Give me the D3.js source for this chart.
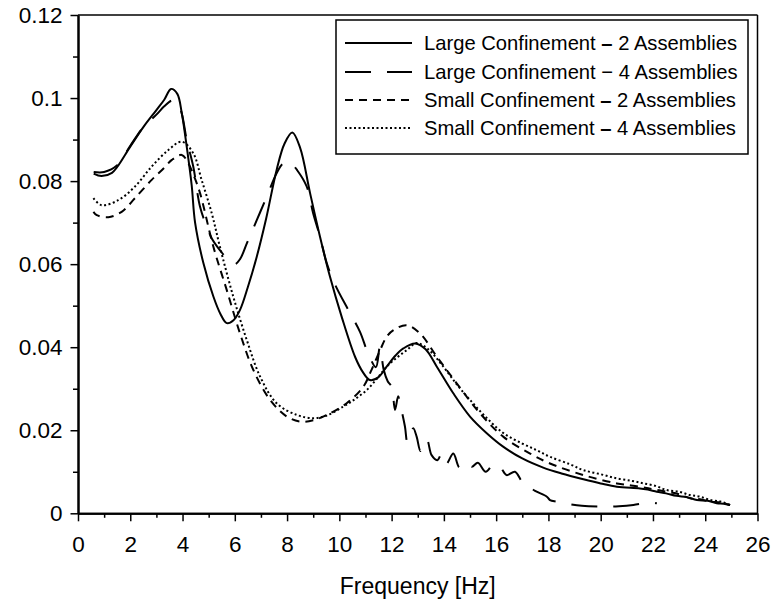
<!DOCTYPE html>
<html>
<head>
<meta charset="utf-8">
<script src="https://cdn.jsdelivr.net/npm/d3@7"></script>
<style>
  body { margin: 0; background: #fff; }
  svg { display: block; font-family: Arial, "Liberation Sans", sans-serif; }
</style>
</head>
<body>
<svg id="chart" width="772" height="603"></svg>
<script>
// ---- data ----
const seriesNames = [
  "Large Confinement",
  "Large Confinement",
  "Small Confinement",
  "Small Confinement"
];
const seriesAssemblies = ["2 Assemblies", "4 Assemblies", "2 Assemblies", "4 Assemblies"];

const large2Freq = [0.6, 0.9, 1.3, 1.5, 2.0, 2.5, 3.0, 3.3, 3.56, 3.8, 3.97, 4.16, 4.35, 4.48, 4.8, 5.18, 5.45, 5.69, 5.95, 6.2, 6.5, 6.84, 7.2, 7.6, 7.9, 8.2, 8.5, 8.88, 9.26, 9.64, 10.09, 10.6, 10.9, 11.17, 11.5, 11.81, 12.15, 12.45, 12.9, 13.3, 13.73, 14.36, 15.0, 15.64, 16.28, 17.0, 17.8, 18.5, 19.34, 20.0, 20.62, 21.5, 21.8, 22.15, 22.5, 22.9, 23.3, 23.68, 24.1, 24.44, 24.7, 24.95];
const large2Val  = [0.0818, 0.0812, 0.0820, 0.0834, 0.0883, 0.0930, 0.0971, 0.0996, 0.1022, 0.1010, 0.0964, 0.0883, 0.0790, 0.0700, 0.0602, 0.0522, 0.0480, 0.0458, 0.0465, 0.0490, 0.0545, 0.0618, 0.0710, 0.0827, 0.0890, 0.0917, 0.0880, 0.0771, 0.0666, 0.0570, 0.0473, 0.0377, 0.0340, 0.0321, 0.0328, 0.0353, 0.0380, 0.0397, 0.0409, 0.0395, 0.0353, 0.0289, 0.0233, 0.0193, 0.0160, 0.0132, 0.0110, 0.0096, 0.0082, 0.0072, 0.0064, 0.0060, 0.0057, 0.0052, 0.0048, 0.0042, 0.0039, 0.0032, 0.0030, 0.0024, 0.0023, 0.0020];

const large4Freq = [0.6, 1.0, 1.5, 2.0, 2.5, 3.0, 3.3, 3.59, 3.8, 3.97, 4.16, 4.41, 4.67, 4.93, 5.12, 5.45, 5.75, 6.0, 6.2, 6.46, 6.84, 7.22, 7.6, 7.86, 8.1, 8.4, 8.75, 9.0, 9.26, 9.52, 9.84, 10.34, 10.79, 11.1, 11.4, 11.55, 11.7, 11.85, 12.0, 12.13, 12.25, 12.32, 12.51, 12.6, 12.7, 12.83, 12.96, 13.1, 13.22, 13.35, 13.53, 13.75, 13.92, 14.1, 14.36, 14.6, 14.88, 15.07, 15.3, 15.6, 15.9, 16.15, 16.4, 16.72, 17.0, 17.2, 17.49, 17.94, 18.06, 18.32, 18.8, 19.28, 20.23, 20.7, 21.25, 21.89, 22.15];
const large4Val  = [0.0822, 0.0822, 0.0838, 0.0885, 0.0930, 0.0960, 0.0980, 0.0994, 0.0990, 0.0963, 0.0899, 0.0835, 0.0738, 0.0690, 0.0662, 0.0632, 0.0610, 0.0600, 0.0612, 0.0650, 0.0706, 0.0762, 0.0819, 0.0843, 0.0846, 0.0825, 0.0787, 0.0722, 0.0666, 0.0602, 0.0550, 0.0490, 0.0437, 0.0385, 0.0352, 0.0400, 0.0345, 0.0318, 0.0305, 0.0249, 0.0282, 0.0265, 0.0209, 0.0172, 0.0184, 0.0205, 0.0184, 0.0150, 0.0172, 0.0177, 0.0140, 0.0128, 0.0144, 0.0120, 0.0144, 0.0110, 0.0122, 0.0112, 0.0122, 0.0100, 0.0118, 0.0112, 0.0092, 0.0100, 0.0075, 0.0066, 0.0054, 0.0040, 0.0032, 0.0028, 0.0022, 0.0018, 0.0016, 0.0017, 0.0020, 0.0026, 0.0024];

const small2Freq = [0.59, 0.72, 1.16, 1.67, 2.18, 2.82, 3.3, 3.59, 3.97, 4.22, 4.45, 4.67, 5.18, 5.69, 6.2, 6.71, 7.35, 7.99, 8.5, 9.0, 9.52, 10.28, 10.92, 11.2, 11.56, 11.81, 12.07, 12.58, 13.09, 13.73, 14.49, 15.38, 16.28, 17.3, 18.06, 19.34, 20.62, 21.5, 22.0, 22.53, 23.0, 23.42, 23.8, 24.19, 24.6, 24.95];
const small2Val  = [0.0726, 0.0718, 0.0713, 0.0726, 0.0759, 0.0803, 0.0832, 0.0851, 0.0863, 0.0843, 0.0810, 0.0771, 0.0642, 0.0538, 0.0433, 0.0345, 0.0273, 0.0233, 0.0221, 0.0224, 0.0237, 0.0265, 0.0305, 0.0341, 0.0393, 0.0425, 0.0441, 0.0453, 0.0433, 0.0377, 0.0313, 0.0241, 0.0184, 0.0144, 0.0120, 0.0092, 0.0072, 0.0064, 0.0058, 0.0052, 0.0046, 0.0036, 0.0034, 0.0028, 0.0026, 0.0020];

const small4Freq = [0.59, 0.9, 1.54, 2.18, 2.82, 3.46, 3.97, 4.41, 4.73, 5.12, 5.43, 5.94, 6.46, 6.97, 7.6, 8.37, 9.0, 9.5, 10.15, 10.6, 11.05, 11.45, 11.81, 12.2, 12.58, 12.96, 13.4, 13.98, 14.5, 15.0, 15.6, 16.28, 17.0, 17.55, 18.06, 18.83, 19.34, 20.0, 20.62, 21.2, 21.64, 22.1, 22.53, 23.0, 23.42, 23.8, 24.19, 24.6, 24.95];
const small4Val  = [0.0759, 0.0742, 0.0754, 0.0787, 0.0835, 0.0875, 0.0895, 0.0867, 0.0803, 0.0722, 0.0642, 0.0522, 0.0417, 0.0329, 0.0265, 0.0237, 0.0229, 0.0235, 0.0257, 0.0275, 0.0297, 0.0325, 0.0353, 0.0375, 0.0393, 0.0410, 0.0395, 0.0353, 0.0310, 0.0273, 0.0232, 0.0193, 0.0168, 0.0152, 0.0136, 0.0118, 0.0104, 0.0094, 0.0084, 0.0078, 0.0072, 0.0066, 0.0056, 0.0052, 0.0044, 0.0040, 0.0032, 0.0028, 0.0020];

const xTickValues = [0, 2, 4, 6, 8, 10, 12, 14, 16, 18, 20, 22, 24, 26];
const xTickLabels = ["0", "2", "4", "6", "8", "10", "12", "14", "16", "18", "20", "22", "24", "26"];
const yTickValues = [0, 0.02, 0.04, 0.06, 0.08, 0.10, 0.12];
const yTickLabels = ["0", "0.02", "0.04", "0.06", "0.08", "0.1", "0.12"];
const xTitle = "Frequency [Hz]";

// ---- layout ----
const svg = d3.select("#chart");
const mLeft = 78, mRight = 757.5, mTop = 15, mBottom = 513.3;
const x = d3.scaleLinear().domain([0, 26]).range([mLeft, mRight]);
const y = d3.scaleLinear().domain([0, 0.12]).range([mBottom, mTop]);

const styles = [
  { dash: null, width: 2 },
  { dash: "26,16", width: 2 },
  { dash: "8,6", width: 2 },
  { dash: "2,2.5", width: 2 }
];
const series = [
  [large2Freq, large2Val],
  [large4Freq, large4Val],
  [small2Freq, small2Val],
  [small4Freq, small4Val]
];

const line = d3.line()
  .x(d => x(d[0]))
  .y(d => y(d[1]))
  .curve(d3.curveCatmullRom.alpha(0.5));

const plot = svg.append("g");
series.forEach((s, i) => {
  const pts = s[0].map((f, k) => [f, s[1][k]]);
  plot.append("path")
    .datum(pts)
    .attr("d", line)
    .attr("fill", "none")
    .attr("stroke", "#000")
    .attr("stroke-width", styles[i].width)
    .attr("stroke-dasharray", styles[i].dash)
    .attr("stroke-linejoin", "round");
});

// frame (top & right)
svg.append("line").attr("x1", mLeft).attr("x2", mRight).attr("y1", mTop).attr("y2", mTop)
  .attr("stroke", "#000").attr("stroke-width", 1.5);
svg.append("line").attr("x1", mRight).attr("x2", mRight).attr("y1", mTop).attr("y2", mBottom)
  .attr("stroke", "#000").attr("stroke-width", 1.5);

// axes
const fontSize = 22.5;
const xAxis = svg.append("g").attr("transform", `translate(0,${mBottom})`)
  .call(d3.axisBottom(x).tickValues(xTickValues).tickFormat((d, i) => xTickLabels[i])
    .tickSize(8).tickSizeOuter(0).tickPadding(15));
const xMinor = svg.append("g").attr("transform", `translate(0,${mBottom})`)
  .call(d3.axisBottom(x).tickValues(d3.range(1, 26, 2)).tickFormat("").tickSize(4.5).tickSizeOuter(0));
const yAxis = svg.append("g").attr("transform", `translate(${mLeft},0)`)
  .call(d3.axisLeft(y).tickValues(yTickValues).tickFormat((d, i) => yTickLabels[i])
    .tickSize(7.5).tickSizeOuter(0).tickPadding(8));
const yMinor = svg.append("g").attr("transform", `translate(${mLeft},0)`)
  .call(d3.axisLeft(y).tickValues([0.01, 0.03, 0.05, 0.07, 0.09, 0.11]).tickFormat("").tickSize(5).tickSizeOuter(0));

[xAxis, xMinor, yAxis, yMinor].forEach(g => {
  g.select(".domain").attr("stroke", "#000").attr("stroke-width", 2);
  g.selectAll(".tick line").attr("stroke", "#000").attr("stroke-width", 1.5);
  g.selectAll("text").attr("font-size", fontSize).attr("fill", "#000")
    .attr("font-family", "Arial, 'Liberation Sans', sans-serif");
});

svg.append("text")
  .attr("x", (mLeft + mRight) / 2)
  .attr("y", 594)
  .attr("text-anchor", "middle")
  .attr("font-size", 23)
  .attr("fill", "#000")
  .text(xTitle);

// legend
const lg = svg.append("g");
lg.append("rect").attr("x", 336).attr("y", 20).attr("width", 412).attr("height", 134)
  .attr("fill", "#fff").attr("stroke", "#000").attr("stroke-width", 1.5);
const rowY = [43, 72, 100, 128];
const boldDash = [true, false, true, true];
series.forEach((s, i) => {
  lg.append("line").attr("x1", 345).attr("x2", 412).attr("y1", rowY[i]).attr("y2", rowY[i])
    .attr("stroke", "#000").attr("stroke-width", styles[i].width)
    .attr("stroke-dasharray", styles[i].dash);
  const t = lg.append("text").attr("x", 424).attr("y", rowY[i]).attr("dy", "0.35em")
    .attr("font-size", 20.2).attr("fill", "#000");
  t.append("tspan").text(seriesNames[i] + " ");
  t.append("tspan").attr("font-weight", boldDash[i] ? "bold" : "normal").text(boldDash[i] ? "–" : "−");
  t.append("tspan").text(" " + seriesAssemblies[i]);
});
</script>
</body>
</html>
